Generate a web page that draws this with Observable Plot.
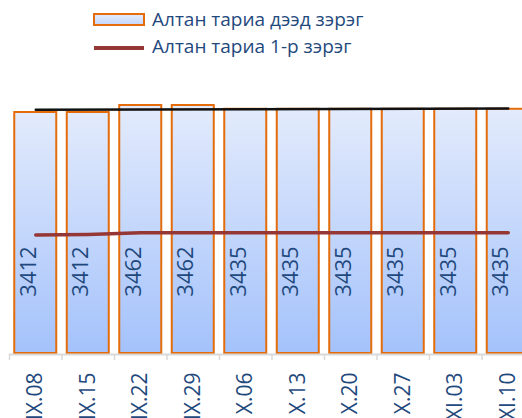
<!DOCTYPE html>
<html><head><meta charset="utf-8">
<script src="https://cdn.jsdelivr.net/npm/d3@7"></script>
<script src="https://cdn.jsdelivr.net/npm/@observablehq/plot@0.6"></script>
<style>
body{margin:0;background:#fff;font-family:"Open Sans",sans-serif;}
#chart{width:522px;height:418px;overflow:hidden;position:relative;}
#legend{position:relative;height:62px;}
#legend span{position:absolute;left:152px;font-size:19px;line-height:19px;color:#1f497d;white-space:nowrap;}
</style></head><body>
<div id="chart">
<div id="legend">
  <div style="position:absolute;left:93px;top:13px;width:52px;height:13px;box-sizing:border-box;border:2px solid #e46c0a;background:linear-gradient(#e3ebfc,#c5d7fb)"></div>
  <span style="top:10px">Алтан тариа дээд зэрэг</span>
  <div style="position:absolute;left:94px;top:46px;width:50px;height:4px;background:#953735"></div>
  <span style="top:37px">Алтан тариа 1-р зэрэг</span>
</div>
</div>
<script>
const dates = ["IX.08","IX.15","IX.22","IX.29","X.06","X.13","X.20","X.27","XI.03","XI.10"];
const topGrade = [3412,3412,3462,3462,3435,3435,3435,3435,3435,3435];
const firstGrade = [2536,2541,2552,2552,2552,2552,2552,2552,2552,2552];
const trendDates = ["IX.08","XI.10"];
const trendValues = [3431,3440];
const yMin = 1690;

const data = dates.map((d,i)=>({date:d, top:topGrade[i], first:firstGrade[i]}));
const trend = trendDates.map((d,i)=>({date:d, v:trendValues[i]}));

const plot = Plot.plot({
  width:522, height:356,
  marginLeft:9, marginRight:0, marginTop:0, marginBottom:64,
  style:{fontFamily:"'Open Sans', sans-serif", background:"transparent"},
  x:{domain:dates, range:[9,534], paddingInner:0.2, paddingOuter:0.1, round:false, label:null},
  y:{domain:[yMin,3462], range:[291,43], axis:null},
  marks:[
    Plot.barY(data,{x:"date", y1:yMin, y2:"top", fill:"url(#barGrad)", stroke:"#e46c0a", strokeWidth:2}),
    Plot.ruleY([yMin],{stroke:"#d9d9d9", strokeWidth:2, dy:1}),
    Plot.axisX({tickSize:6, fill:"none", stroke:"#d9d9d9", strokeWidth:1.5, dx:-26.25, label:null}),
    Plot.axisX({tickSize:0, tickRotate:-90, tickPadding:18, fontSize:21, fill:"#1f497d", label:null}),
    Plot.text(data,{x:"date", text:d=>String(d.top), frameAnchor:"bottom", rotate:-90, dy:-83, fontSize:22, fill:"#1f497d"}),
    Plot.line(trend,{x:"date", y:"v", stroke:"#111", strokeWidth:2.5}),
    Plot.line(data,{x:"date", y:"first", stroke:"#953735", strokeWidth:3.5})
  ]
});
d3.select(plot).insert("defs",":first-child").html(
  '<linearGradient id="barGrad" x1="0" y1="0" x2="0" y2="1"><stop offset="0" stop-color="#e3ebfc"/><stop offset="1" stop-color="#a4c2fb"/></linearGradient>');
document.getElementById("chart").appendChild(plot);
</script>
</body></html>
